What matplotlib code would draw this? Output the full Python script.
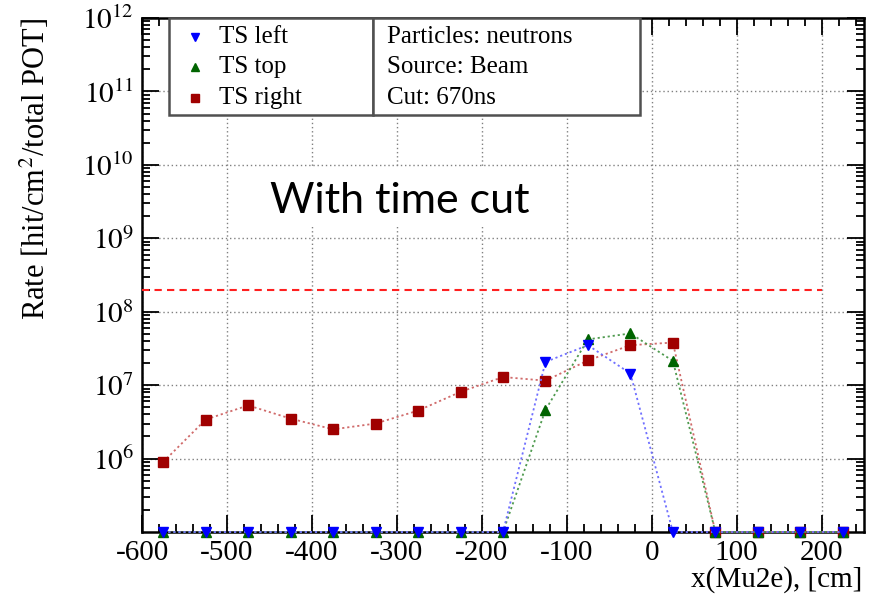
import numpy as np
import matplotlib
matplotlib.use('Agg')
import matplotlib.pyplot as plt
from matplotlib.ticker import MultipleLocator, LogLocator, NullFormatter
from matplotlib.patches import Rectangle
from matplotlib.lines import Line2D

plt.rcParams['font.family'] = ['Liberation Serif', 'DejaVu Serif']
plt.rcParams['mathtext.fontset'] = 'stix'
plt.rcParams['axes.unicode_minus'] = False

# ---------------- data ----------------
x_pos = [-575, -525, -475, -425, -375, -325, -275, -225, -175,
         -125, -75, -25, 25, 75, 125, 175, 225]
ts_left = [0, 0, 0, 0, 0, 0, 0, 0, 0,
           2.07e7, 3.5e7, 1.44e7, 0, 0, 0, 0, 0]
ts_top = [0, 0, 0, 0, 0, 0, 0, 0, 0,
          4.6e6, 4.2e7, 5.06e7, 2.14e7, 0, 0, 0, 0]
ts_right = [9.0e5, 3.4e6, 5.3e6, 3.5e6, 2.5e6, 3.0e6, 4.5e6, 8.1e6, 1.29e7,
            1.15e7, 2.17e7, 3.5e7, 3.8e7, 0, 0, 0, 0]
series_labels = ['TS left', 'TS top', 'TS right']
info_lines = ['Particles: neutrons', 'Source: Beam', 'Cut: 670ns']
limit_value = 2e8
limit_x = [-600, 200]
x_ticks = [-600, -500, -400, -300, -200, -100, 0, 100, 200]
x_tick_labels = ['-600', '-500', '-400', '-300', '-200', '-100', '0', '100', '200']
y_ticks = [1e6, 1e7, 1e8, 1e9, 1e10, 1e11, 1e12]
y_tick_labels = ['$10^{6}$', '$10^{7}$', '$10^{8}$', '$10^{9}$', '$10^{10}$', '$10^{11}$', '$10^{12}$']
annotation = 'With time cut'

# ---------------- figure ----------------
W, H = 872, 596
fig = plt.figure(figsize=(W / 100, H / 100), dpi=100)

def fx(x):
    return x / W

def fy(y):
    return 1 - y / H

ax = fig.add_axes([fx(142), fy(532), (864 - 142) / W, (532 - 18) / H])
ymin, ymax = 1e5, 1e12
ax.set_yscale('log')
ax.set_xlim(-600, 250)
ax.set_ylim(ymin, ymax)

styles = [
    dict(marker='v', mfc='#0000ff', mec='#0000ff', lc='#7070ff', ms=7.5, z=6),
    dict(marker='^', mfc='#006400', mec='#006400', lc='#4f9a4f', ms=7.5, z=5),
    dict(marker='s', mfc='#a00000', mec='#a00000', lc='#d06a6a', ms=6.5, z=4),
]
all_series = [ts_left, ts_top, ts_right]
for vals, st in zip(all_series, styles):
    v = np.asarray(vals, dtype=float)
    yp = np.where(v > 0, v, ymin)
    ax.plot(x_pos, yp, linestyle=(0, (1.2, 1.6)), color=st['lc'], lw=1.3,
            marker=st['marker'], mfc=st['mfc'], mec=st['mec'], ms=st['ms'],
            clip_on=False, zorder=st['z'])

ax.plot(limit_x, [limit_value, limit_value], color='#ff2020', lw=1.5,
        linestyle=(0, (3.5, 2.5)), zorder=3)

# ticks
ax.set_xticks(x_ticks)
ax.set_xticklabels(x_tick_labels)
ax.xaxis.set_minor_locator(MultipleLocator(20))
ax.set_yticks(y_ticks)
ax.set_yticklabels(y_tick_labels)
ax.yaxis.set_minor_locator(LogLocator(base=10, subs=np.arange(2, 10)))
ax.yaxis.set_minor_formatter(NullFormatter())
ax.tick_params(which='both', direction='in', top=True, right=True, width=1.3)
ax.tick_params(which='major', length=12, labelsize=21, pad=6)
ax.tick_params(which='minor', length=6)
ax.tick_params(axis='y', which='major', pad=6)
for s in ax.spines.values():
    s.set_linewidth(1.8)

ax.set_axisbelow(True)
ax.grid(True, which='major', color='#808080', lw=1.0, linestyle=(0, (1, 2)))

# white box behind annotation
ax.add_patch(Rectangle((fx(233), fy(227)), fx(562) - fx(233), fy(168) - fy(227),
                       transform=fig.transFigure, facecolor='white',
                       edgecolor='none', zorder=1))
fig.text(fx(400), fy(213), annotation, ha='center', va='baseline',
         fontsize=31, family=['Lato', 'DejaVu Sans'], zorder=10)

# legend boxes
for (x0, x1) in [(169, 373), (373, 640)]:
    fig.patches.append(Rectangle((fx(x0), fy(115)), fx(x1) - fx(x0), fy(18) - fy(115),
                                 transform=fig.transFigure, facecolor='white',
                                 edgecolor='#505050', lw=1.8, zorder=8))
rows = [37, 67, 98]
for lab, st, ry in zip(series_labels, styles, rows):
    fig.add_artist(Line2D([fx(195)], [fy(ry)], marker=st['marker'], mfc=st['mfc'],
                          mec=st['mec'], ms=5.5, linestyle='none',
                          transform=fig.transFigure, zorder=9))
    fig.text(fx(219), fy(ry), lab, ha='left', va='center', fontsize=18, zorder=9)
for line, ry in zip(info_lines, rows):
    fig.text(fx(387), fy(ry), line, ha='left', va='center', fontsize=18, zorder=9)

# axis titles
fig.text(fx(35), fy(18), 'Rate [hit/cm$^{2}$/total POT]', rotation=90,
         ha='center', va='top', fontsize=22)
fig.text(fx(862), fy(580), 'x(Mu2e), [cm]', ha='right', va='center', fontsize=21)

fig.savefig('out.png', dpi=100)
